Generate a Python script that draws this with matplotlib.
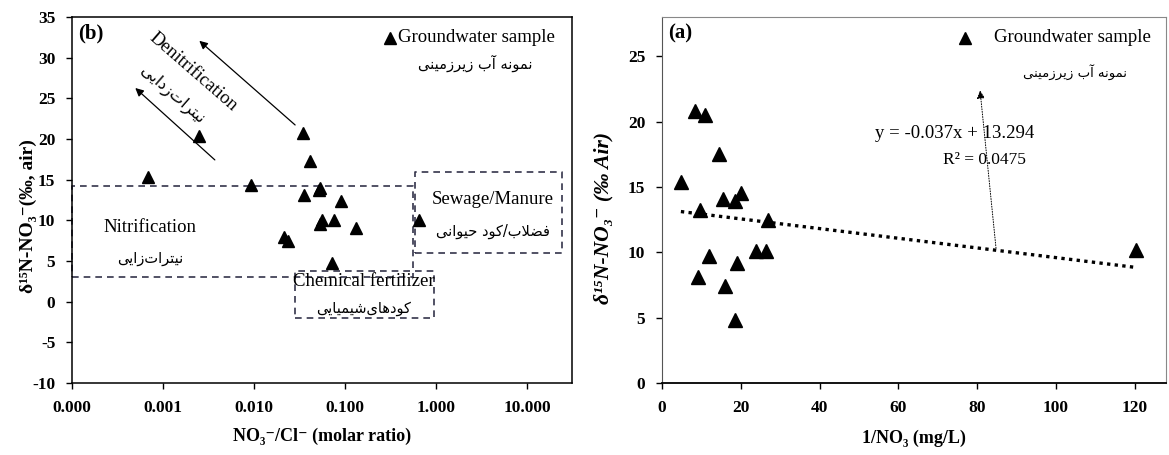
import numpy as np
import matplotlib
matplotlib.use("Agg")
import matplotlib.pyplot as plt
from matplotlib.ticker import FixedLocator, FuncFormatter, NullLocator

plt.rcParams['font.family'] = ['Liberation Serif', 'DejaVu Serif', 'DejaVu Sans']
plt.rcParams['font.weight'] = 'bold'
plt.rcParams['axes.unicode_minus'] = False

# panel (b): NO3/Cl ratio vs d15N
ratio_b = [0.00069, 0.0025, 0.0092, 0.0214, 0.0237, 0.0348, 0.0412, 0.0531, 0.052,
           0.0354, 0.0904, 0.0555, 0.0745, 0.0522, 0.132, 0.0713, 0.64]
d15n_b = [15.3, 20.4, 14.4, 8.0, 7.4, 20.7, 17.3, 14.0, 13.7,
          13.1, 12.4, 10.1, 10.1, 9.6, 9.1, 4.7, 10.1]

# panel (a): 1/NO3 vs d15N
inv_no3 = [4.8, 8.4, 11.0, 14.5, 15.6, 18.5, 20.0, 9.6, 27.0,
           9.2, 11.9, 16.0, 19.0, 18.5, 23.8, 26.3, 120.5]
d15n_a = [15.4, 20.8, 20.5, 17.5, 14.1, 13.9, 14.5, 13.2, 12.5,
          8.1, 9.7, 7.4, 9.2, 4.8, 10.1, 10.1, 10.2]
slope, intercept = -0.037, 13.294
r2 = 0.0475

yticks_b = [-10, -5, 0, 5, 10, 15, 20, 25, 30, 35]
xticks_b = [1e-4, 1e-3, 1e-2, 1e-1, 1, 10]
yticks_a = [0, 5, 10, 15, 20, 25]
xticks_a = [0, 20, 40, 60, 80, 100, 120]

# source boxes (x0, x1, y0, y1)
box_nitri = (1e-4, 0.56, 3.0, 14.2)
box_sewage = (0.58, 24.0, 6.0, 15.9)
box_chem = (0.028, 0.95, -2.0, 3.8)

# --- minimal Persian shaping (presentation forms + reversal for LTR drawing)
FORMS = {
    'ا': ('\uFE8D', '\uFE8E', None, None),
    'آ': ('\uFE81', '\uFE82', None, None),
    'د': ('\uFEA9', '\uFEAA', None, None),
    'ر': ('\uFEAD', '\uFEAE', None, None),
    'ز': ('\uFEAF', '\uFEB0', None, None),
    'و': ('\uFEED', '\uFEEE', None, None),
    'ب': ('\uFE8F', '\uFE90', '\uFE91', '\uFE92'),
    'ت': ('\uFE95', '\uFE96', '\uFE97', '\uFE98'),
    'ح': ('\uFEA1', '\uFEA2', '\uFEA3', '\uFEA4'),
    'ش': ('\uFEB5', '\uFEB6', '\uFEB7', '\uFEB8'),
    'ض': ('\uFEBD', '\uFEBE', '\uFEBF', '\uFEC0'),
    'ف': ('\uFED1', '\uFED2', '\uFED3', '\uFED4'),
    'ل': ('\uFEDD', '\uFEDE', '\uFEDF', '\uFEE0'),
    'م': ('\uFEE1', '\uFEE2', '\uFEE3', '\uFEE4'),
    'ن': ('\uFEE5', '\uFEE6', '\uFEE7', '\uFEE8'),
    'ه': ('\uFEE9', '\uFEEA', '\uFEEB', '\uFEEC'),
    'ی': ('\uFBFC', '\uFBFD', '\uFBFE', '\uFBFF'),
    'ک': ('\uFB8E', '\uFB8F', '\uFB90', '\uFB91'),
}


def fa(s):
    dual = lambda c: c in FORMS and FORMS[c][2] is not None
    res = []
    i = 0
    while i < len(s):
        c = s[i]
        if c not in FORMS:
            if c != '\u200c':
                res.append(c)
            i += 1
            continue
        prev = s[i - 1] if i > 0 else None
        nxt = s[i + 1] if i + 1 < len(s) else None
        jp = prev is not None and dual(prev)
        if c == 'ل' and nxt == 'ا':
            res.append('\uFEFC' if jp else '\uFEFB')
            i += 2
            continue
        jn = dual(c) and nxt is not None and nxt in FORMS
        f = FORMS[c]
        if jp and jn:
            g = f[3]
        elif jp:
            g = f[1]
        elif jn:
            g = f[2]
        else:
            g = f[0]
        res.append(g)
        i += 1
    return ''.join(reversed(res))


FA = ['DejaVu Sans']
TXT = 13.5
W, H = 1169, 455
fig = plt.figure(figsize=(W / 100, H / 100), dpi=100)
ax1 = fig.add_axes([72 / W, 72 / H, 500 / W, 366 / H])
ax2 = fig.add_axes([662 / W, 72 / H, 504 / W, 366 / H])

# ---------------- panel (b)
ax1.set_xscale('log')
ax1.set_xlim(1e-4, 10 ** 1.49)
ax1.set_ylim(-10, 35)
ax1.xaxis.set_major_locator(FixedLocator(xticks_b))
ax1.xaxis.set_minor_locator(NullLocator())
ax1.xaxis.set_major_formatter(FuncFormatter(lambda v, p: f"{v:.3f}"))
ax1.set_yticks(yticks_b)
ax1.tick_params(direction='out', length=4, width=1, labelsize=12.5, pad=8)
for sp in ax1.spines.values():
    sp.set_linewidth(1.1)

box_col = '#33334a'
for (x0, x1, y0, y1) in [box_nitri, box_sewage, box_chem]:
    ax1.plot([x0, x1, x1, x0, x0], [y0, y0, y1, y1, y0], ls=(0, (4, 3)),
             color=box_col, lw=1.2, zorder=1, clip_on=False)

ax1.plot(ratio_b, d15n_b, '^', color='black', ms=9, zorder=3)

ax1.annotate('', xy=(0.00237, 32.3), xytext=(0.0297, 21.5),
             arrowprops=dict(arrowstyle='-|>', color='black', lw=0.9,
                             mutation_scale=12))
ax1.annotate('', xy=(0.00047, 26.5), xytext=(0.0039, 17.2),
             arrowprops=dict(arrowstyle='-|>', color='black', lw=0.9,
                             mutation_scale=12))
ax1.text(0.00215, 28.3, 'Denitrification', rotation=-41, fontsize=TXT,
         fontweight='normal', ha='center', va='center', rotation_mode='anchor')
ax1.text(0.00125, 25.4, fa('نیترات\u200cزدایی'), family=FA, rotation=-41,
         fontsize=11.5, fontweight='normal', ha='center', va='center',
         rotation_mode='anchor')

ax1.text(0.00072, 9.1, 'Nitrification', fontsize=TXT, fontweight='normal',
         ha='center', va='center')
ax1.text(0.00072, 5.3, fa('نیترات\u200cزایی'), family=FA, fontsize=10.5,
         fontweight='normal', ha='center', va='center')
ax1.text(4.2, 12.5, 'Sewage/Manure', fontsize=TXT, fontweight='normal',
         ha='center', va='center')
ax1.text(4.2, 8.6, fa('فضلاب/کود حیوانی'), family=FA, fontsize=10.5,
         fontweight='normal', ha='center', va='center')
ax1.text(0.16, 2.5, 'Chemical fertilizer', fontsize=TXT, fontweight='normal',
         ha='center', va='center')
ax1.text(0.16, -0.8, fa('کودهای\u200cشیمیایی'), family=FA, fontsize=10.5,
         fontweight='normal', ha='center', va='center')

ax1.text(0.012, 0.955, '(b)', transform=ax1.transAxes, fontsize=15,
         fontweight='bold', va='center')
ax1.plot([0.636], [0.943], '^', color='black', ms=9, transform=ax1.transAxes,
         clip_on=False)
ax1.text(0.652, 0.943, 'Groundwater sample', transform=ax1.transAxes,
         fontsize=TXT, fontweight='normal', va='center')
ax1.text(0.922, 0.872, fa('نمونه آب زیرزمینی'), family=FA, transform=ax1.transAxes,
         fontsize=10.5, fontweight='normal', ha='right', va='center')

ax1.set_xlabel('NO₃⁻/Cl⁻ (molar ratio)', fontsize=13, fontweight='bold', labelpad=9)
ax1.set_ylabel('δ¹⁵N-NO₃⁻(‰, air)', fontsize=14, fontweight='bold')
ax1.yaxis.set_label_coords(-0.07, 0.456)

# ---------------- panel (a)
ax2.set_xlim(0, 128)
ax2.set_ylim(0, 28)
ax2.set_xticks(xticks_a)
ax2.set_yticks(yticks_a)
ax2.tick_params(direction='out', length=4, width=1, labelsize=12.5, pad=8)
ax2.spines['bottom'].set_linewidth(1.3)
ax2.spines['bottom'].set_color('black')
ax2.spines['left'].set_color('#555555')
ax2.spines['top'].set_color('#888888')
ax2.spines['right'].set_color('#888888')

ax2.plot(inv_no3, d15n_a, '^', color='black', ms=9.5, zorder=3)
xf = np.array([min(inv_no3), max(inv_no3)])
ax2.plot(xf, slope * xf + intercept, ls=(0, (1, 1.3)), color='black', lw=2.4, zorder=2)

ax2.annotate('', xy=(80.7, 22.6), xytext=(84.9, 10.1),
             arrowprops=dict(arrowstyle='-|>', color='black', lw=0.7, ls=':',
                             mutation_scale=12))
ax2.text(0.581, 0.683, 'y = -0.037x + 13.294', transform=ax2.transAxes,
         fontsize=TXT, fontweight='normal', ha='center', va='center')
ax2.text(0.64, 0.609, f'R² = {r2}', transform=ax2.transAxes,
         fontsize=12.5, fontweight='normal', ha='center', va='center')

ax2.text(0.012, 0.955, '(a)', transform=ax2.transAxes, fontsize=15,
         fontweight='bold', va='center')
ax2.plot([0.601], [0.943], '^', color='black', ms=9, transform=ax2.transAxes,
         clip_on=False)
ax2.text(0.659, 0.943, 'Groundwater sample', transform=ax2.transAxes,
         fontsize=TXT, fontweight='normal', va='center')
ax2.text(0.923, 0.85, fa('نمونه آب زیرزمینی'), family=FA, transform=ax2.transAxes,
         fontsize=9.5, fontweight='normal', ha='right', va='center')

ax2.set_xlabel('1/NO₃ (mg/L)', fontsize=13, fontweight='bold', labelpad=10)
ax2.set_ylabel('δ¹⁵N-NO₃⁻ (‰ Air)', fontsize=15.5, fontweight='bold', style='italic')
ax2.yaxis.set_label_coords(-0.097, 0.45)

fig.savefig('out.png', dpi=100)
